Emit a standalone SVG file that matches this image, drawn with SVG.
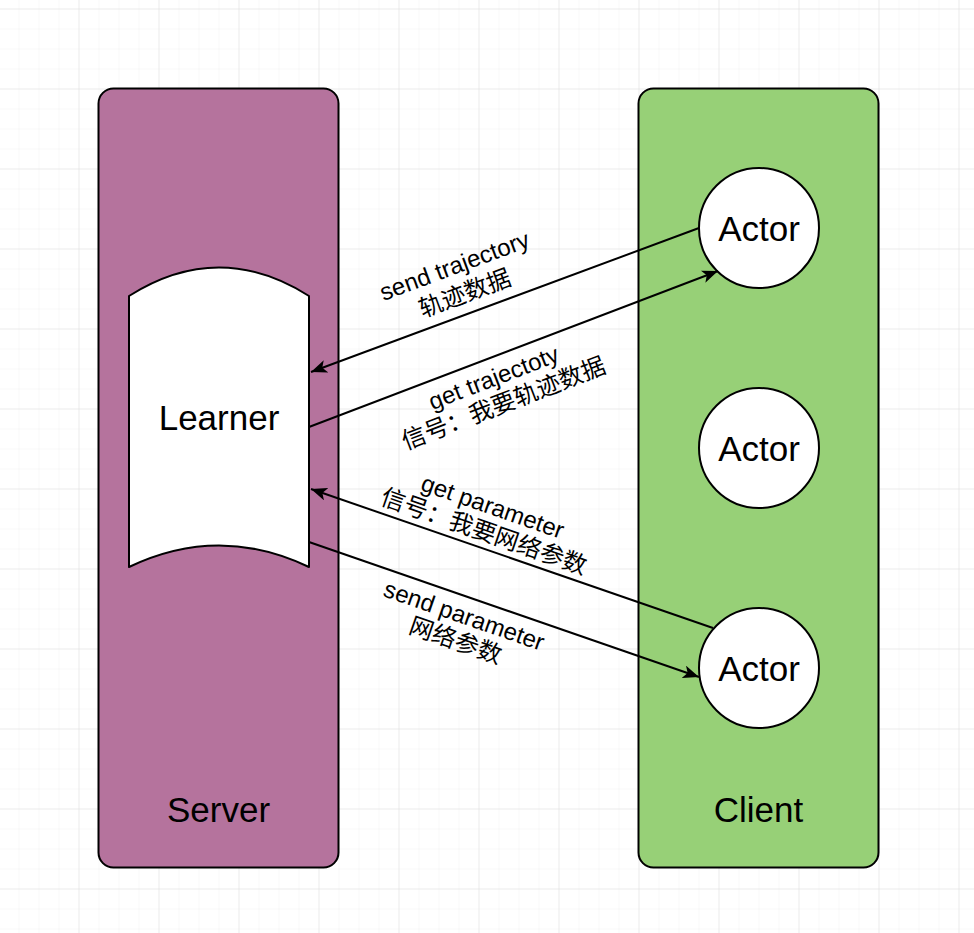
<svg xmlns="http://www.w3.org/2000/svg" width="974" height="933" viewBox="0 0 974 933">
<style>
.box{stroke:#000;stroke-width:2}
.lbl{font-family:"Liberation Sans","Noto Sans CJK SC",sans-serif;fill:#000;text-anchor:middle}
.big{font-size:35px}
.small{font-size:24px}
.conn{fill:none;stroke:#000;stroke-width:2}
</style>
<defs>
<pattern id="minor" patternUnits="userSpaceOnUse" x="18.5" y="8.5" width="20" height="20">
<path d="M20,0 L0,0 L0,20" fill="none" stroke="#f1f1f1" stroke-width="1"/>
</pattern>
<pattern id="major" patternUnits="userSpaceOnUse" x="78.5" y="8.5" width="80" height="80">
<path d="M80,0 L0,0 L0,80" fill="none" stroke="#dfdfdf" stroke-width="1"/>
</pattern>
<marker id="arr" markerUnits="userSpaceOnUse" markerWidth="17" markerHeight="13" refX="16" refY="6.5" orient="auto">
<path d="M0,0 L16,6.5 L0,13 L4,6.5 z" fill="#000"/>
</marker>
</defs>
<rect width="974" height="933" fill="#fff"/>
<rect width="974" height="933" fill="url(#minor)"/>
<rect width="974" height="933" fill="url(#major)"/>

<g id="server">
<rect class="box" x="98.5" y="88.5" width="240" height="779" rx="15" fill="#B5739D"/>
<text class="lbl big" x="218.5" y="822">Server</text>
</g>
<g id="client">
<rect class="box" x="638.5" y="88.5" width="240" height="779" rx="15" fill="#97D077"/>
<text class="lbl big" x="758.5" y="822">Client</text>
</g>
<g id="learner">
<path class="box" d="M129,296 Q219,239 309,296 L309,567 Q219,524 129,567 Z" fill="#fff" stroke-linejoin="round"/>
<text class="lbl big" x="219" y="430">Learner</text>
</g>
<g id="actor1">
<circle class="box" cx="759" cy="228" r="60" fill="#fff"/>
<text class="lbl big" x="759" y="241">Actor</text>
</g>
<g id="actor2">
<circle class="box" cx="759" cy="448" r="60" fill="#fff"/>
<text class="lbl big" x="759" y="461">Actor</text>
</g>
<g id="actor3">
<circle class="box" cx="759" cy="668" r="60" fill="#fff"/>
<text class="lbl big" x="759" y="681">Actor</text>
</g>

<g id="connectors">
<line class="conn" x1="699" y1="228" x2="311" y2="372" marker-end="url(#arr)"/>
<line class="conn" x1="309" y1="427" x2="718" y2="271" marker-end="url(#arr)"/>
<line class="conn" x1="713" y1="628" x2="311" y2="489" marker-end="url(#arr)"/>
<line class="conn" x1="309" y1="542" x2="699" y2="677" marker-end="url(#arr)"/>
<g transform="translate(460,280.5) rotate(-20.4)">
<text class="lbl small" x="0" y="-7.5">send trajectory</text>
<text class="lbl small" x="0" y="22">轨迹数据</text>
</g>
<g transform="translate(499,391.5) rotate(-21.1)">
<text class="lbl small" x="0" y="-6.5">get trajectoty</text>
<text class="lbl small" x="0" y="21">信号：我要轨迹数据</text>
</g>
<g transform="translate(488,520) rotate(19.2)">
<text class="lbl small" x="0" y="-6">get parameter</text>
<text class="lbl small" x="0" y="20.5">信号：我要网络参数</text>
</g>
<g transform="translate(459.5,629) rotate(19.2)">
<text class="lbl small" x="0" y="-6">send parameter</text>
<text class="lbl small" x="0" y="20.5">网络参数</text>
</g>
</g>
</svg>
